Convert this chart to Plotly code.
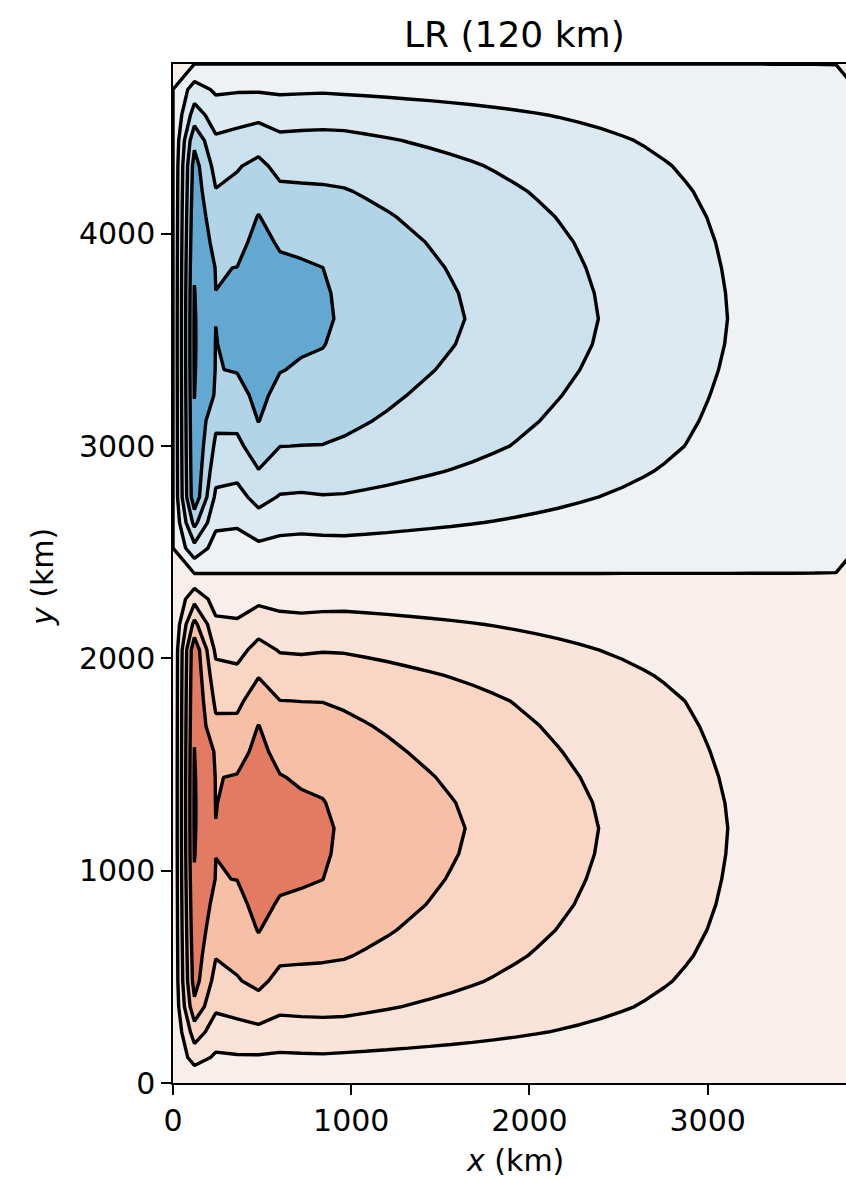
import plotly.graph_objects as go

# ---------------- data (streamfunction, arbitrary units; contour step = 1) ----------------
x_km = [0, 120, 240, 360, 480, 600, 720, 840, 960, 1080, 1200, 1320, 1440, 1560, 1680, 1800,
        1920, 2040, 2160, 2280, 2400, 2520, 2640, 2760, 2880, 3000, 3120, 3240, 3360, 3480,
        3600, 3720, 3840]
y_half_km = [0, 120, 240, 360, 480, 600, 720, 840, 960, 1080, 1200, 1320, 1440, 1560, 1680,
             1800, 1920, 2040, 2160, 2280, 2400]

# western columns of the southern (positive) gyre, values at the y_half_km rows
psi_x0 = [0] * 21
psi_x120 = [0, 1.45, 2.45, 3.75, 4.40, 4.55, 4.70, 4.82, 4.94, 5.03, 5.07, 5.08, 5.06, 5.01,
            4.95, 4.88, 4.80, 4.69, 3.28, 1.70, 0]
psi_x240 = [0, 0.85, 1.55, 2.15, 2.65, 3.05, 3.40, 3.70, 3.97, 4.005, 4.01, 3.98, 3.97, 3.90,
            3.20, 2.80, 2.35, 1.80, 1.20, 0.60, 0]
psi_x360 = [0, 0.91, 1.66, 2.32, 2.93, 3.23, 3.49, 3.75, 4.01, 4.20, 4.40, 4.22, 4.05, 3.68,
            3.24, 2.77, 2.24, 1.70, 1.13, 0.57, 0]
psi_x480 = [0, 0.91, 1.74, 2.60, 3.23, 3.66, 4.04, 4.26, 4.47, 4.69, 4.90, 4.68, 4.47, 4.25,
            4.03, 3.52, 2.95, 2.31, 1.59, 0.79, 0]
psi_x600 = [0, 0.85, 1.58, 2.21, 2.73, 3.18, 3.54, 3.91, 4.16, 4.38, 4.49, 4.27, 4.04, 3.72,
            3.36, 3.01, 2.48, 1.94, 1.33, 0.69, 0]
psi_x720 = [0, 0.87, 1.63, 2.24, 2.72, 3.14, 3.49, 3.84, 4.09, 4.25, 4.28, 4.11, 3.90, 3.60,
            3.30, 2.99, 2.45, 1.90, 1.28, 0.65, 0]
psi_x840 = [0, 0.89, 1.66, 2.25, 2.71, 3.11, 3.41, 3.71, 4.005, 4.125, 4.155, 4.035, 3.82,
            3.58, 3.30, 2.98, 2.50, 1.95, 1.33, 0.67, 0]

# interior (x >= 960 km): amplitude along the gyre axis and meridional shape
interior_amp = [3.86, 3.71, 3.56, 3.40, 3.25, 3.10, 2.947, 2.786, 2.626, 2.465, 2.305, 2.144,
                1.983, 1.818, 1.652, 1.486, 1.320, 1.155, 0.989, 0.824, 0.659, 0.495, 0.330,
                0.165, 0]
interior_shape = [0, 0.22, 0.42, 0.58, 0.70, 0.79, 0.86, 0.915, 0.955, 0.985, 1.0, 0.978,
                  0.935, 0.88, 0.82, 0.75, 0.635, 0.50, 0.35, 0.175, 0]

levels_start, levels_end, levels_step = -5, 5, 1
band_colors = ["#3E8BC1", "#62A8D0", "#B1D4E7", "#CCE1EE", "#DDEAF2", "#EEF2F5",
               "#F8EEEA", "#FAE4D9", "#F9D5C3", "#F6BFA6", "#E37B62", "#D0604E"]

title_text = "LR (120 km)"
x_title = "<i>x</i> (km)"
y_title = "<i>y</i> (km)"
x_ticks = [0, 1000, 2000, 3000]
y_ticks = [0, 1000, 2000, 3000, 4000]

# ---------------- build the field ----------------
west_cols = [psi_x0, psi_x120, psi_x240, psi_x360, psi_x480, psi_x600, psi_x720, psi_x840]
south = []
for j in range(len(y_half_km)):
    row = [c[j] for c in west_cols] + [a * interior_shape[j] for a in interior_amp]
    south.append(row)

y_km = y_half_km + [4800 - y for y in reversed(y_half_km[:-1])]
n = len(y_half_km)
z = []
for j in range(len(y_km)):
    if j < n:
        z.append(south[j])
    else:
        z.append([-v for v in south[2 * (n - 1) - j]])
eps = 1e-3
z = [[v + eps for v in row] for row in z]

nb = len(band_colors) - 1
colorscale = []
for k, c in enumerate(band_colors):
    colorscale.append([max(0.0, (k - 0.5) / nb), c])
    colorscale.append([min(1.0, (k + 0.5) / nb), c])

fig = go.Figure(go.Contour(
    x=x_km, y=y_km, z=z,
    contours=dict(start=levels_start, end=levels_end, size=levels_step,
                  coloring="fill", showlines=True),
    line=dict(color="black", width=3.4, smoothing=0),
    colorscale=colorscale, showscale=False, hoverinfo="skip",
))

font_family = "DejaVu Sans"
tick_font = dict(family=font_family, size=30, color="black")
fig.update_layout(
    width=846, height=1181,
    margin=dict(l=173, r=0, t=64, b=98),
    paper_bgcolor="white", plot_bgcolor="white",
    showlegend=False,
    xaxis=dict(range=[0, 3776], tickvals=x_ticks, ticks="outside", ticklen=10, tickwidth=1.5,
               tickcolor="black", showline=True, linecolor="black", linewidth=1.5, mirror=True,
               showgrid=False, zeroline=False, tickfont=tick_font),
    yaxis=dict(range=[0, 4800], tickvals=y_ticks, ticks="outside", ticklen=10, tickwidth=1.5,
               tickcolor="black", showline=True, linecolor="black", linewidth=1.5,
               showgrid=False, zeroline=False, tickfont=tick_font),
    annotations=[
        dict(text=title_text, xref="paper", yref="paper", x=0.508, y=1.0285,
             xanchor="center", yanchor="middle", showarrow=False,
             font=dict(family=font_family, size=36, color="black")),
        dict(text=x_title, xref="paper", yref="paper", x=0.508, y=-0.0756,
             xanchor="center", yanchor="middle", showarrow=False,
             font=dict(family=font_family, size=30, color="black")),
        dict(text=y_title, xref="paper", yref="paper", x=-0.193, y=0.4966,
             xanchor="center", yanchor="middle", showarrow=False, textangle=-90,
             font=dict(family=font_family, size=30, color="black")),
    ],
)

fig.write_html("out.html", config={"displayModeBar": False},
               post_script="document.body.style.margin='0';document.body.style.overflow='hidden';")
